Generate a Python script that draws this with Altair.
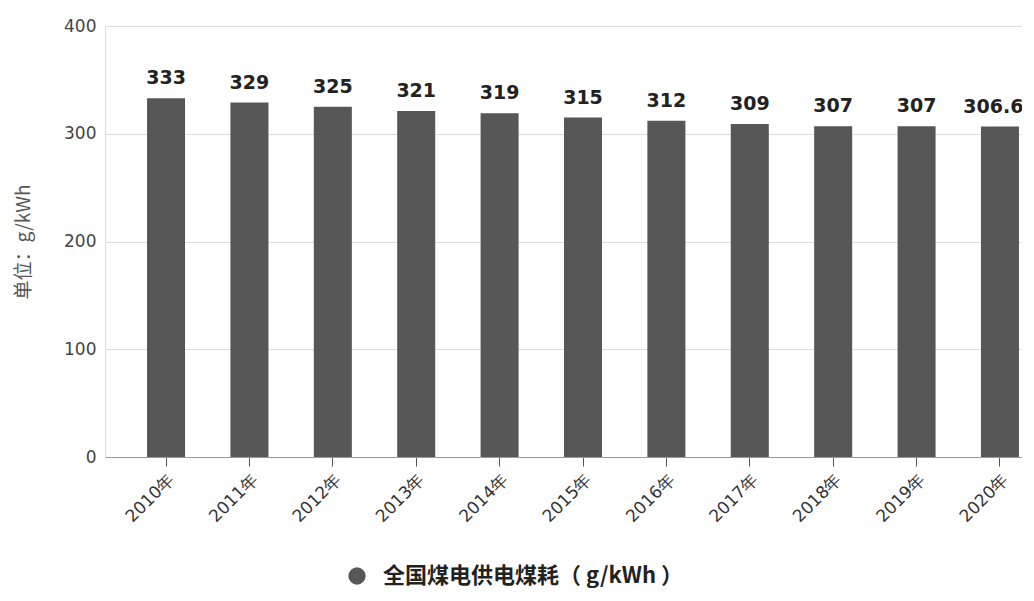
import altair as alt
import pandas as pd

years = ["2010年", "2011年", "2012年", "2013年", "2014年", "2015年",
         "2016年", "2017年", "2018年", "2019年", "2020年"]
values = [333, 329, 325, 321, 319, 315, 312, 309, 307, 307, 306.66]
value_labels = ["333", "329", "325", "321", "319", "315", "312", "309", "307", "307", "306.66"]
series_name = "全国煤电供电煤耗（ g/kWh ）"
y_ticks = [0, 100, 200, 300, 400]

df = pd.DataFrame({
    "year": years,
    "value": values,
    "label": value_labels,
    "series": [series_name] * len(years),
})

x_enc = alt.X(
    "year:N", sort=None, title=None,
    scale=alt.Scale(range=[0, 956], paddingInner=0.544, paddingOuter=0.504),
    axis=alt.Axis(labelAngle=-45, labelFontSize=17, labelFont="DejaVu Sans",
                  labelColor="#333333", tickColor="#555555", tickSize=9,
                  domainColor="#9a9a9a", labelPadding=5, grid=False),
)
y_enc = alt.Y(
    "value:Q", title="单位：g/kWh",
    scale=alt.Scale(domain=[0, 400], nice=False),
    axis=alt.Axis(values=y_ticks, labelFontSize=17, labelFont="DejaVu Sans",
                  labelColor="#444444", ticks=False, domain=False, labelPadding=9,
                  gridColor="#dcdcdc", titleFontSize=19, titleFont="Noto Sans CJK SC",
                  titleFontWeight="normal", titleColor="#555555", titlePadding=30),
)

bars = alt.Chart(df).mark_bar().encode(
    x=x_enc,
    y=y_enc,
    color=alt.Color(
        "series:N", title=None,
        scale=alt.Scale(domain=[series_name], range=["#575757"]),
        legend=alt.Legend(orient="none", legendX=241, legendY=539,
                          symbolType="circle", symbolSize=300, symbolStrokeWidth=0,
                          labelFontSize=22, labelFont="Noto Sans CJK SC",
                          labelFontWeight="bold",
                          labelColor="#222222", labelOffset=15, labelLimit=0),
    ),
)

texts = alt.Chart(df).mark_text(
    dy=-14, baseline="alphabetic", fontSize=19, fontWeight="bold",
    font="DejaVu Sans", color="#222222",
).encode(
    x=alt.X("year:N", sort=None),
    y=alt.Y("value:Q"),
    text="label:N",
)

chart = (bars + texts).properties(
    width=917, height=431,
    autosize=alt.AutoSizeParams(type="none"),
    padding={"left": 97, "top": 18, "right": 0, "bottom": 136},
).configure_view(stroke=None).configure(background="white")

chart.save("out.html", embed_options={"renderer": "svg", "actions": False})
